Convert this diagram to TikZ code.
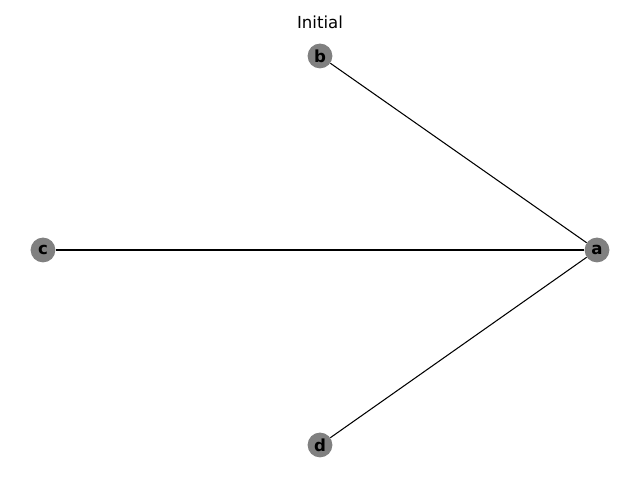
\documentclass[tikz,border=0pt]{standalone}
\usepackage{fontspec}
\setmainfont{DejaVu Sans}
\usetikzlibrary{positioning}

\begin{document}
\begin{tikzpicture}[x=0.025cm,y=0.025cm,
 vertex/.style={circle,fill=gray,draw=none,minimum size=0.62cm,inner sep=0pt,font=\fontsize{11.8}{12}\selectfont\bfseries},
 edge/.style={draw=black,line width=0.75pt}]
\useasboundingbox (0,0) rectangle (640,480);
\node[font=\fontsize{11.8}{12}\selectfont] (title) at (320,458) {Initial};
\node[vertex] (a) at (597,230) {a};
\node[vertex] (b) at (320,424) {b};
\node[vertex] (c) at (43,230) {c};
\node[vertex] (d) at (320,35) {d};
\draw[edge] (a) -- (b);
\draw[edge] (a) -- (c);
\draw[edge] (a) -- (d);
\end{tikzpicture}
\end{document}
